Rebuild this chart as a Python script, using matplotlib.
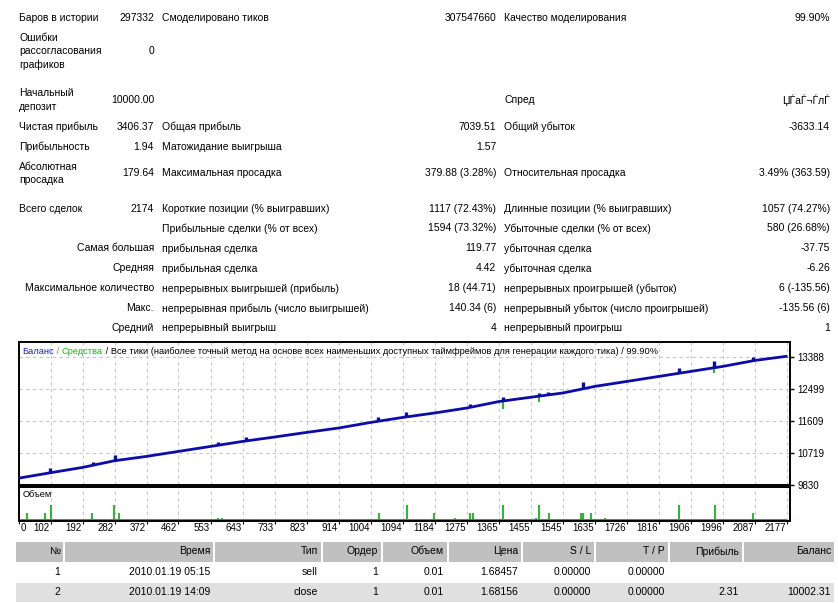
import numpy as np
import matplotlib.pyplot as plt
from matplotlib.patches import Rectangle
from matplotlib.transforms import offset_copy

# ----------------------------
# Report data
# ----------------------------
col1_labels = ["Баров в истории", "Ошибки\nрассогласования\nграфиков", "Начальный\nдепозит",
               "Чистая прибыль", "Прибыльность", "Абсолютная\nпросадка", "Всего сделок",
               "", "Самая большая", "Средняя", "Максимальное количество", "Макс.", "Средний"]
col1_values = ["297332", "0", "10000.00", "3406.37", "1.94", "179.64", "2174",
               "", "", "", "", "", ""]
col2_labels = ["Смоделировано тиков", "", "", "Общая прибыль", "Матожидание выигрыша",
               "Максимальная просадка", "Короткие позиции (% выигравших)",
               "Прибыльные сделки (% от всех)", "прибыльная сделка", "прибыльная сделка",
               "непрерывных выигрышей (прибыль)", "непрерывная прибыль (число выигрышей)",
               "непрерывный выигрыш"]
col2_values = ["307547660", "", "", "7039.51", "1.57", "379.88 (3.28%)", "1117 (72.43%)",
               "1594 (73.32%)", "119.77", "4.42", "18 (44.71)", "140.34 (6)", "4"]
col3_labels = ["Качество моделирования", "", "Спред", "Общий убыток", "",
               "Относительная просадка", "Длинные позиции (% выигравших)",
               "Убыточные сделки (% от всех)", "убыточная сделка", "убыточная сделка",
               "непрерывных проигрышей (убыток)", "непрерывный убыток (число проигрышей)",
               "непрерывный проигрыш"]
col3_values = ["99.90%", "", "ЏЃаЃ¬ЃлЃ", "-3633.14", "", "3.49% (363.59)", "1057 (74.27%)",
               "580 (26.68%)", "-37.75", "-6.26", "6 (-135.56)", "-135.56 (6)", "1"]

# balance curve (trade index, deposit)
balance_x = [0, 102, 192, 282, 372, 462, 553, 643, 733, 823, 914, 1004, 1094,
             1184, 1275, 1365, 1455, 1545, 1635, 1726, 1816, 1906, 1996, 2087, 2174]
balance_y = [10000, 10172, 10319, 10505, 10625, 10764, 10903, 11042, 11164, 11292,
             11415, 11570, 11709, 11832, 11971, 12150, 12270, 12388, 12571, 12710,
             12849, 12988, 13127, 13294, 13406]

# small balance bumps and equity dips
bump_x = [100, 220, 283, 574, 652, 1024, 1104, 1282, 1376, 1478, 1504, 1602, 1871, 1972, 2080]
bump_top = [10290, 10480, 10660, 11030, 11160, 11710, 11870, 12090, 12290, 12400,
            12420, 12690, 13080, 13270, 13390]
dip_x = [1376, 1478, 1972]
dip_low = [11930, 12130, 12950]

# volume (lots)
total_trades = 2174
vol_x = [36, 87, 102, 219, 281, 295, 574, 586, 1027, 1106, 1181, 1240, 1284, 1291,
         1375, 1468, 1477, 1505, 1595, 1603, 1623, 1663, 1871, 1973, 2080]
vol_lots = [0.04, 0.04, 0.07, 0.04, 0.07, 0.04, 0.02, 0.02, 0.04, 0.07, 0.04, 0.02,
            0.04, 0.04, 0.07, 0.02, 0.07, 0.04, 0.04, 0.04, 0.04, 0.02, 0.07, 0.07, 0.04]

x_tick_labels = ["0", "102", "192", "282", "372", "462", "553", "643", "733", "823",
                 "914", "1004", "1094", "1184", "1275", "1365", "1455", "1545", "1635",
                 "1726", "1816", "1906", "1996", "2087", "2177"]
y_ticks = [9830, 10719, 11609, 12499, 13388]

# trades table
table_headers = ["№", "Время", "Тип", "Ордер", "Объем", "Цена", "S / L", "T / P", "Прибыль", "Баланс"]
table_row1 = ["1", "2010.01.19 05:15", "sell", "1", "0.01", "1.68457", "0.00000", "0.00000", "", ""]
table_row2 = ["2", "2010.01.19 14:09", "close", "1", "0.01", "1.68156", "0.00000", "0.00000", "2.31", "10002.31"]

# ----------------------------
# Style
# ----------------------------
plt.rcParams["font.family"] = ["Liberation Sans", "DejaVu Sans"]
plt.rcParams["font.size"] = 7.5

BLUE = "#0c0ca8"
GREEN = "#00b000"
GRID = "#c8c8c8"
SMALL = 6.7
TICK = 7

fig = plt.figure(figsize=(8.38, 6.03), dpi=100)

# background axes in pixel coordinates
bg = fig.add_axes([0, 0, 1, 1])
bg.set_xlim(0, 838)
bg.set_ylim(603, 0)
bg.axis("off")

row_y = [18.3, 51.5, 100, 126.7, 146.7, 173.3, 209, 228.3, 248.3, 268.3, 288.3, 308.3, 328.3]

for i, y in enumerate(row_y):
    if col1_labels[i]:
        if i >= 8:
            bg.text(154, y, col1_labels[i], ha="right", va="center")
        else:
            bg.text(19, y, col1_labels[i], ha="left", va="center", linespacing=1.45)
    bg.text(154, y, col1_values[i], ha="right", va="center")
    bg.text(162, y, col2_labels[i], ha="left", va="center")
    bg.text(496, y, col2_values[i], ha="right", va="center")
    bg.text(504, y, col3_labels[i], ha="left", va="center")
    bg.text(830, y, col3_values[i], ha="right", va="center")

# ----------------------------
# Table
# ----------------------------
col_left = [16, 65, 215, 323, 383, 449, 523, 596, 670, 744]
col_right = [63, 213, 321, 381, 447, 521, 594, 668, 742, 834]

for l, r in zip(col_left, col_right):
    bg.add_patch(Rectangle((l, 542), r - l, 19.5, facecolor="#c0c0c0", edgecolor="none"))
bg.add_patch(Rectangle((16, 582.5), 818, 19, facecolor="#e0e0e0", edgecolor="none"))

for j, r in enumerate(col_right):
    bg.text(r - 3, 551.5, table_headers[j], ha="right", va="center")
    bg.text(r - 3, 572, table_row1[j], ha="right", va="center")
    bg.text(r - 3, 592, table_row2[j], ha="right", va="center")

# ----------------------------
# Balance chart
# ----------------------------
X_LEFT, X_RIGHT = 12.7, 2185
tick_pos = [max(float(v), X_LEFT) for v in x_tick_labels]

ax = fig.add_axes([19 / 838, 1 - 485 / 603, 771 / 838, 143 / 603])
ax.set_xlim(X_LEFT, X_RIGHT)
ax.set_ylim(9830, 13805)

ax.vlines(dip_x, dip_low, np.interp(dip_x, balance_x, balance_y), color=GREEN, lw=1.2, zorder=2)
ax.plot(balance_x, balance_y, color=BLUE, lw=2.0, zorder=3)
ax.vlines(bump_x, np.interp(bump_x, balance_x, balance_y), bump_top, color=BLUE, lw=2.4, zorder=3)

ax.set_xticks(tick_pos)
ax.tick_params(axis="x", length=0, labelbottom=False)
ax.set_yticks(y_ticks)
ax.yaxis.tick_right()
ax.tick_params(axis="y", length=3, width=1, pad=2.5, labelsize=TICK)
ax.grid(True, color=GRID, linestyle=(0, (3, 3)), lw=0.8)
for s in ax.spines.values():
    s.set_linewidth(1.4)

# title pieces
t = ax.text(0.004, 0.937, "Баланс", color="#2020c0", va="center", fontsize=SMALL,
            transform=ax.transAxes)
t = ax.annotate(" / ", xy=(1, 0), xycoords=t, va="bottom", color="#a08000", fontsize=SMALL)
t = ax.annotate("Средства", xy=(1, 0), xycoords=t, va="bottom", color="#10c010", fontsize=SMALL)
ax.annotate(" / Все тики (наиболее точный метод на основе всех наименьших доступных "
            "таймфреймов для генерации каждого тика) / 99.90%",
            xy=(1, 0), xycoords=t, va="bottom", color="black", fontsize=SMALL)

# ----------------------------
# Volume chart
# ----------------------------
vax = fig.add_axes([19 / 838, 1 - 521 / 603, 771 / 838, 34 / 603])
vax.set_xlim(X_LEFT, X_RIGHT)
vax.set_ylim(0.006, 0.142)
vax.plot([0, total_trades], [0.01, 0.01], color=GREEN, lw=1.3)
vax.vlines(vol_x, 0.01, vol_lots, color=GREEN, lw=1.2)
vax.set_xticks(tick_pos)
vax.set_yticks([])
vax.tick_params(axis="x", length=2, width=0.8, labelbottom=False)
vax.grid(True, axis="x", color=GRID, linestyle=(0, (3, 3)), lw=0.8)
for s in vax.spines.values():
    s.set_linewidth(1.4)
vax.text(0.005, 0.77, "Объем", transform=vax.transAxes, va="center", fontsize=SMALL)

lab_tr = offset_copy(vax.get_xaxis_transform(), fig=fig, x=-1, y=0, units="dots")
for pos, lab in zip(tick_pos, x_tick_labels):
    if pos == X_LEFT:
        vax.text(pos, -0.21, lab, ha="left", va="center", fontsize=TICK,
                 transform=offset_copy(vax.get_xaxis_transform(), fig=fig, x=2, y=0, units="dots"))
    else:
        vax.text(pos, -0.21, lab, ha="right", va="center", fontsize=TICK, transform=lab_tr)

fig.savefig("out.png", dpi=100)
